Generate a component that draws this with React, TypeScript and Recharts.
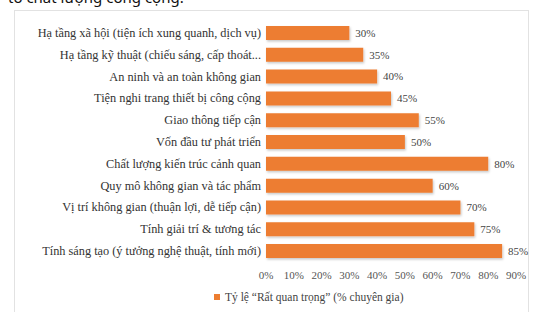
import React from 'react';
import { BarChart, Bar, XAxis, YAxis, LabelList } from 'recharts';

const categories = [
  'Hạ tầng xã hội (tiện ích xung quanh, dịch vụ)',
  'Hạ tầng kỹ thuật (chiếu sáng, cấp thoát...',
  'An ninh và an toàn không gian',
  'Tiện nghi trang thiết bị công cộng',
  'Giao thông tiếp cận',
  'Vốn đầu tư phát triển',
  'Chất lượng kiến trúc cảnh quan',
  'Quy mô không gian và tác phẩm',
  'Vị trí không gian (thuận lợi, dễ tiếp cận)',
  'Tính giải trí & tương tác',
  'Tính sáng tạo (ý tưởng nghệ thuật, tính mới)',
];
const values = [0.3, 0.35, 0.4, 0.45, 0.55, 0.5, 0.8, 0.6, 0.7, 0.75, 0.85];
const xTicks = [0, 0.1, 0.2, 0.3, 0.4, 0.5, 0.6, 0.7, 0.8, 0.9];
const seriesName = 'Tỷ lệ “Rất quan trọng” (% chuyên gia)';

const data = categories.map((name, i) => ({ name, value: values[i] }));
const pct = (v: number) => `${Math.round(v * 100)}%`;
const serif = '"Liberation Serif", "DejaVu Serif", serif';

const CategoryTick = (props: any) => {
  const { x, y, payload } = props;
  return (
    <text x={x} y={y} dy={4} textAnchor="end" fontFamily={serif} fontSize={12.3} fill="#333">
      {payload.value}
    </text>
  );
};

export default function App() {
  return (
    <div style={{ position: 'absolute', left: 0, top: 0, width: 537, height: 312, background: '#fff', overflow: 'hidden' }}>
      {/* clipped caption above the chart */}
      <div style={{ position: 'absolute', left: 8, top: -13, fontFamily: '"Noto Sans", sans-serif', fontSize: 15, color: '#111', whiteSpace: 'nowrap' }}>
        tố chất lượng công cộng.
      </div>
      <div style={{ position: 'absolute', left: 14, top: 10, width: 515, height: 310, border: '1px solid #e2e2e2', boxSizing: 'border-box' }} />
      <div style={{ position: 'absolute', left: 0, top: 0 }}>
        <BarChart
          width={537}
          height={312}
          data={data}
          layout="vertical"
          margin={{ top: 22, right: 21, bottom: 30, left: 16 }}
          barCategoryGap="18%"
        >
          <defs>
            <filter id="barShadow" x="-5%" y="-30%" width="110%" height="170%">
              <feDropShadow dx="1" dy="1.5" stdDeviation="1" floodColor="#000" floodOpacity="0.22" />
            </filter>
          </defs>
          <XAxis
            type="number"
            domain={[0, 0.9]}
            ticks={xTicks}
            tickFormatter={pct}
            axisLine={false}
            tickLine={false}
            tickSize={0}
            tickMargin={9}
            interval={0}
            tick={{ fontFamily: serif, fontSize: 11, fill: '#555' }}
            height={20}
          />
          <YAxis
            type="category"
            dataKey="name"
            width={250}
            axisLine={false}
            tickLine={false}
            tickSize={0}
            tickMargin={5}
            interval={0}
            tick={<CategoryTick />}
          />
          <Bar dataKey="value" name={seriesName} fill="#ED7D31" filter="url(#barShadow)" isAnimationActive={false}>
            <LabelList dataKey="value" position="right" offset={6} formatter={(v: any) => pct(Number(v))} style={{ fontFamily: serif, fontSize: 11, fill: '#444' }} />
          </Bar>
        </BarChart>
      </div>
      <div style={{ position: 'absolute', left: 214, top: 291, display: 'flex', alignItems: 'center', fontFamily: serif, fontSize: 11.5, color: '#444', whiteSpace: 'nowrap' }}>
        <span style={{ display: 'inline-block', width: 6, height: 6, background: '#ED7D31', marginRight: 5 }} />
        {seriesName}
      </div>
    </div>
  );
}
